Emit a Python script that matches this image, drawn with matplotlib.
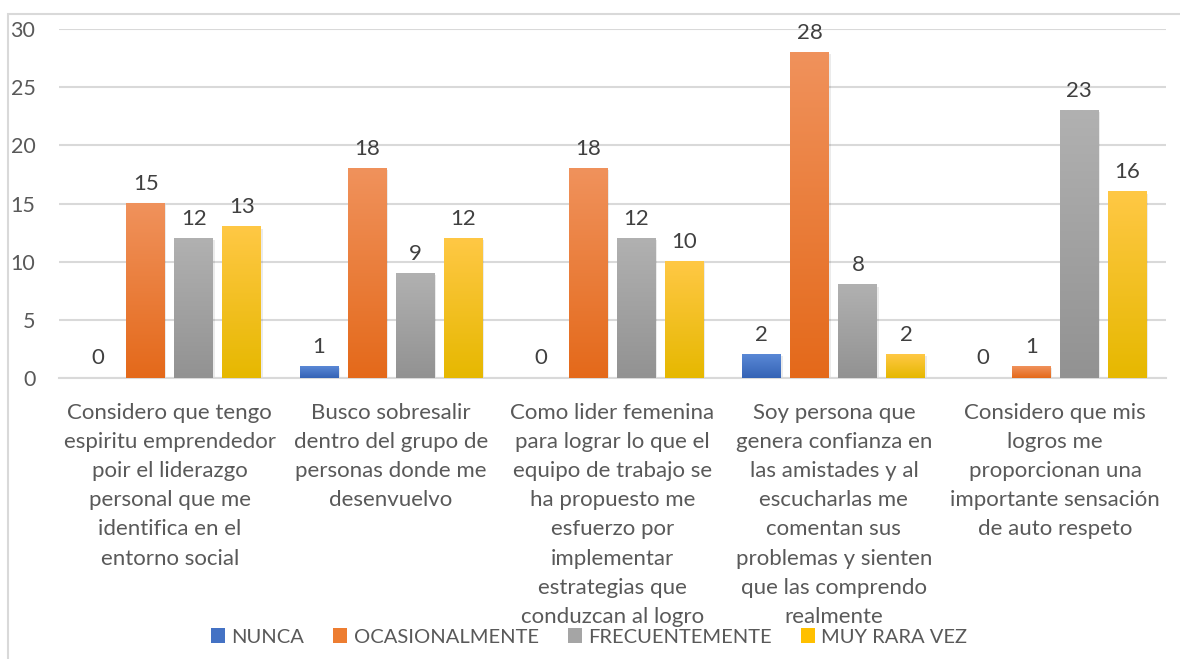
import numpy as np
import matplotlib
matplotlib.use("Agg")
import matplotlib.pyplot as plt
from matplotlib.patches import Rectangle, Patch
from matplotlib.colors import LinearSegmentedColormap

plt.rcParams['font.family'] = ['Lato', 'DejaVu Sans']

categories = [
    "Considero que tengo\nespiritu emprendedor\npoir el liderazgo\npersonal que me\nidentifica en el\nentorno social",
    "Busco sobresalir\ndentro del grupo de\npersonas donde me\ndesenvuelvo",
    "Como lider femenina\npara lograr lo que el\nequipo de trabajo se\nha propuesto me\nesfuerzo por\nimplementar\nestrategias que\nconduzcan al logro",
    "Soy persona que\ngenera confianza en\nlas amistades y al\nescucharlas me\ncomentan sus\nproblemas y sienten\nque las comprendo\nrealmente",
    "Considero que mis\nlogros me\nproporcionan una\nimportante sensación\nde auto respeto",
]
series_names = ["NUNCA", "OCASIONALMENTE", "FRECUENTEMENTE", "MUY RARA VEZ"]
nunca = [0, 1, 0, 2, 0]
ocasionalmente = [15, 18, 18, 28, 1]
frecuentemente = [12, 9, 12, 8, 23]
muy_rara_vez = [13, 12, 10, 2, 16]
series_values = [nunca, ocasionalmente, frecuentemente, muy_rara_vez]

# gradient colours (top, bottom) and legend colour
grad = [
    ("#5A88D6", "#3463B5"),
    ("#F0925C", "#E4691A"),
    ("#B1B1B1", "#929292"),
    ("#FFC845", "#E6B800"),
]
legend_cols = ["#4472C4", "#ED7D31", "#A5A5A5", "#FFC000"]

text_col = "#595959"
fig = plt.figure(figsize=(11.8, 6.59), dpi=100)
ax = fig.add_axes([59/1180, 1-378/659, (1166-59)/1180, (378-29)/659])

# chart border
fig.patches.append(Rectangle((8/1180, -0.05), 1.2, 1-14/659+0.05, transform=fig.transFigure,
                             fill=False, edgecolor="#D9D9D9", linewidth=1.5, zorder=0))

x = np.arange(len(categories))
step = 0.217
width = 0.176
offsets = (np.arange(4) - 1.5) * step

grid_vals = np.linspace(0, 1, 256).reshape(-1, 1)
for i, vals in enumerate(series_values):
    cmap = LinearSegmentedColormap.from_list(f"g{i}", [grad[i][1], grad[i][0]])
    bars = ax.bar(x + offsets[i], vals, width, color="none", zorder=3)
    for b, v in zip(bars, vals):
        if v > 0:
            x0 = b.get_x()
            # soft shadow
            ax.add_patch(Rectangle((x0 + 0.006, -0.15), b.get_width(), v, facecolor="#000000",
                                   alpha=0.08, edgecolor="none", zorder=2.5))
            ax.imshow(grid_vals, cmap=cmap, origin="lower", aspect="auto",
                      extent=(x0, x0 + b.get_width(), 0, v), zorder=3)
        ax.annotate(str(v), (b.get_x() + b.get_width()/2, v), xytext=(0, 7),
                    textcoords="offset points", ha="center", va="bottom",
                    fontsize=16, color="#404040")

ax.set_xlim(-0.5, len(categories) - 0.5)
ax.set_ylim(0, 30)
ax.set_yticks(np.arange(0, 31, 5))
ax.yaxis.grid(True, color="#D9D9D9", linewidth=1.5, zorder=0)
ax.set_axisbelow(True)
for s in ["top", "right", "left"]:
    ax.spines[s].set_visible(False)
ax.spines["bottom"].set_color("#D9D9D9")
ax.spines["bottom"].set_linewidth(1.5)
ax.tick_params(axis="y", length=0, pad=17, labelsize=15.5, labelcolor=text_col)
ax.tick_params(axis="x", length=0, pad=18)
ax.set_xticks(x)
ax.set_xticklabels(categories, fontsize=16, color=text_col, linespacing=1.57, va="top")
for lbl in ax.get_yticklabels():
    lbl.set_color(text_col)

handles = [Patch(facecolor=c, edgecolor="none") for c in legend_cols]
fig.legend(handles, series_names, loc="center", bbox_to_anchor=(589/1180, 1-637/659),
           ncol=4, frameon=False, fontsize=14.5, labelcolor=text_col,
           handlelength=0.7, handleheight=0.7, handletextpad=0.3, columnspacing=1.45)

fig.savefig("out.png", dpi=100)
